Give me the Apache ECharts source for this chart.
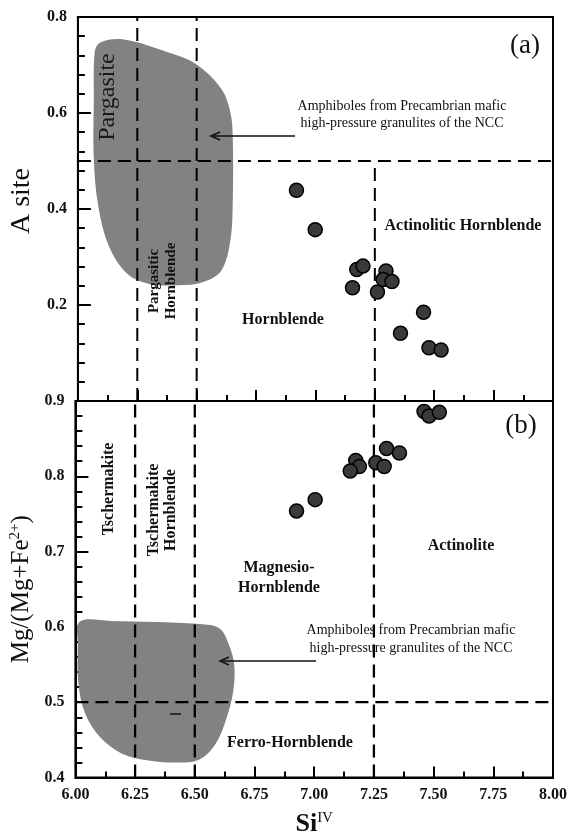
<!DOCTYPE html>
<html><head><meta charset="utf-8">
<script src="https://cdn.jsdelivr.net/npm/echarts@6/dist/echarts.min.js"></script>
<style>html,body{margin:0;padding:0;background:#fff}#c{width:571px;height:838px}</style>
</head><body><div id="c"></div>
<script>
// ---- data ----
const siTop = [6.920, 6.999, 7.174, 7.200, 7.156, 7.261, 7.297, 7.285, 7.322, 7.455, 7.358, 7.478, 7.529];
const aSite = [0.439, 0.357, 0.274, 0.281, 0.236, 0.227, 0.271, 0.253, 0.249, 0.185, 0.141, 0.111, 0.106];
const siBot = [7.460, 7.481, 7.524, 7.303, 7.357, 7.174, 7.189, 7.151, 7.258, 7.293, 6.926, 7.004];
const mgNum = [0.886, 0.880, 0.885, 0.837, 0.831, 0.821, 0.813, 0.807, 0.818, 0.813, 0.754, 0.769];
// field of amphiboles from Precambrian mafic HP granulites (outline)
const blobTopX = [6.071, 6.094, 6.193, 6.375, 6.497, 6.604, 6.642, 6.652, 6.652, 6.642, 6.604, 6.528, 6.421, 6.299, 6.208, 6.132, 6.086, 6.067, 6.067];
const blobTopY = [0.727, 0.747, 0.753, 0.727, 0.702, 0.650, 0.601, 0.545, 0.419, 0.335, 0.272, 0.248, 0.241, 0.244, 0.265, 0.321, 0.405, 0.503, 0.629];
const blobBotX = [6.018, 6.147, 6.520, 6.604, 6.642, 6.665, 6.661, 6.634, 6.588, 6.520, 6.421, 6.299, 6.193, 6.102, 6.041, 6.013, 6.010];
const blobBotY = [0.607, 0.608, 0.604, 0.598, 0.577, 0.550, 0.515, 0.480, 0.445, 0.424, 0.420, 0.423, 0.432, 0.454, 0.485, 0.524, 0.577];
// classification boundaries
const topVert = [6.25, 6.5];        // full height, panel a
const topHoriz = 0.5;               // panel a
const topActX = 7.25;               // panel a, A site 0 - 0.5
const botVert = [6.25, 6.5, 7.25];  // panel b
const botHoriz = 0.5;               // panel b
const xRange = [6, 8];
const yRangeTop = [0, 0.8];
const yRangeBot = [0.4, 0.9];

const serif = "'Liberation Serif','Times New Roman',serif";
const chart = echarts.init(document.getElementById('c'), null, {renderer: 'canvas'});

function xAx(g, showLabel, name) {
  return {
    type: 'value', gridIndex: g, min: xRange[0], max: xRange[1], interval: 0.25,
    axisLine: {show: true, onZero: false, lineStyle: {color: '#000', width: 2}},
    axisTick: {show: true, inside: true, length: 11, lineStyle: {color: '#000', width: 2}},
    minorTick: {show: true, splitNumber: 2, length: 6, lineStyle: {color: '#000', width: 2}},
    splitLine: {show: false},
    axisLabel: {show: showLabel, margin: 9, color: '#111', fontFamily: serif, fontWeight: 'bold', fontSize: 16,
      formatter: v => v.toFixed(2)},
    name: name || '', nameLocation: 'middle', nameGap: 33,
    nameTextStyle: {color: '#111', fontFamily: serif,
      rich: {a: {fontSize: 26, fontWeight: 'bold', fontFamily: serif, color: '#111'},
             b: {fontSize: 15, fontFamily: serif, color: '#111', padding: [0, 0, 12, 0]}}}
  };
}
function yAx(g, range, interval, split, name, gap, fs, hideFirst, pad) {
  return {
    type: 'value', gridIndex: g, min: range[0], max: range[1], interval: interval,
    axisLine: {show: true, onZero: false, lineStyle: {color: '#000', width: 2}},
    axisTick: {show: true, inside: true, length: 13, lineStyle: {color: '#000', width: 2}},
    minorTick: {show: true, splitNumber: split, length: 7, lineStyle: {color: '#000', width: 2}},
    splitLine: {show: false},
    axisLabel: {margin: 11, color: '#111', fontFamily: serif, fontWeight: 'bold', fontSize: 16,
      formatter: v => (hideFirst && Math.abs(v - range[0]) < 1e-9) ? '' : v.toFixed(1)},
    name: name, nameLocation: 'middle', nameRotate: 90, nameGap: gap,
    nameTextStyle: {color: '#111', fontFamily: serif, fontSize: fs, padding: pad || 0,
      rich: {sup: {fontSize: 15, fontFamily: serif, color: '#111', padding: [0, 0, 11, 0]}}}
  };
}
function blob(xs, ys, idx) {
  return {
    type: 'custom', xAxisIndex: idx, yAxisIndex: idx, silent: true, z: 1, clip: true,
    data: xs.map((x, i) => [x, ys[i]]),
    renderItem: function (params, api) {
      if (params.dataIndex !== 0) return null;
      const pts = xs.map((x, i) => api.coord([x, ys[i]]));
      return {type: 'polygon', shape: {points: pts, smooth: 0.35}, style: {fill: '#828282', stroke: null}};
    }
  };
}
function seg(pts, idx, w) {
  return {type: 'line', xAxisIndex: idx, yAxisIndex: idx, data: pts, symbol: 'none', silent: true, z: 3,
    lineStyle: {color: '#000', width: w || 2, type: [13, 7]}};
}
function pts(xs, ys, idx) {
  return {type: 'scatter', xAxisIndex: idx, yAxisIndex: idx, z: 5, symbolSize: 14,
    data: xs.map((x, i) => [x, ys[i]]),
    itemStyle: {color: '#3a3a3a', borderColor: '#000', borderWidth: 1.5, opacity: 1}};
}

const series = [blob(blobTopX, blobTopY, 0), blob(blobBotX, blobBotY, 1)];
topVert.forEach(x => series.push(seg([[x, yRangeTop[0]], [x, yRangeTop[1]]], 0)));
series.push(seg([[xRange[0], topHoriz], [xRange[1], topHoriz]], 0));
series.push(seg([[topActX, yRangeTop[0]], [topActX, topHoriz]], 0));
botVert.forEach(x => series.push(seg([[x, yRangeBot[0]], [x, yRangeBot[1]]], 1, 2.3)));
series.push(seg([[xRange[0], botHoriz], [xRange[1], botHoriz]], 1, 2.3));
series.push(pts(siTop, aSite, 0));
series.push(pts(siBot, mgNum, 1));

function txt(x, y, text, opts) {
  opts = opts || {};
  return {type: 'text', x: x, y: y, rotation: opts.rot ? Math.PI / 2 : 0, z: 10, silent: true,
    style: {text: text, fill: opts.color || '#111', fontFamily: serif, fontSize: opts.size || 16,
      fontWeight: opts.bold ? 'bold' : 'normal', lineHeight: opts.lh || undefined,
      align: 'center', verticalAlign: 'middle', textAlign: 'center', textVerticalAlign: 'middle'}};
}
function arrow(x1, x2, y) {
  return [
    {type: 'line', z: 10, silent: true, shape: {x1: x1, y1: y, x2: x2, y2: y}, style: {stroke: '#111', lineWidth: 1.5}},
    {type: 'polyline', z: 10, silent: true, shape: {points: [[x2 + 9, y - 4], [x2, y], [x2 + 9, y + 4]]}, style: {stroke: '#111', lineWidth: 1.5, fill: null}}
  ];
}
const graphic = [
  txt(525, 46, '(a)', {size: 27}),
  txt(108, 97, 'Pargasite', {size: 24, rot: true, color: '#1a1a1a'}),
  txt(163, 281, 'Pargasitic\nHornblende', {size: 15, bold: true, rot: true, lh: 17}),
  txt(283, 320, 'Hornblende', {bold: true}),
  txt(463, 226, 'Actinolitic Hornblende', {bold: true}),
  txt(402, 115, 'Amphiboles from Precambrian mafic\nhigh-pressure granulites of the NCC', {size: 14, lh: 17}),
  ...arrow(295, 211, 136),
  txt(521, 426, '(b)', {size: 27}),
  txt(109, 489, 'Tschermakite', {bold: true, rot: true}),
  txt(162, 510, 'Tschermakite\nHornblende', {bold: true, rot: true, lh: 17}),
  txt(279, 578, 'Magnesio-\nHornblende', {bold: true, lh: 20}),
  txt(461, 546, 'Actinolite', {bold: true}),
  txt(411, 639, 'Amphiboles from Precambrian mafic\nhigh-pressure granulites of the NCC', {size: 14, lh: 18}),
  ...arrow(316, 220, 661),
  txt(290, 743, 'Ferro-Hornblende', {bold: true}),
  {type: 'line', z: 10, silent: true, shape: {x1: 170, y1: 714, x2: 181, y2: 714}, style: {stroke: '#111', lineWidth: 1.5}}
];

chart.setOption({
  animation: false,
  backgroundColor: '#fff',
  grid: [
    {left: 74, right: 18, top: 17, height: 384, show: true, borderColor: '#000', borderWidth: 2},
    {left: 74, right: 18, top: 401, height: 380, show: true, borderColor: '#000', borderWidth: 2}
  ],
  xAxis: [xAx(0, false), xAx(1, true, '{a|Si}{b|IV}')],
  yAxis: [
    yAx(0, yRangeTop, 0.2, 5, 'A site', 36, 28, true, [0, 0, 0, 16]),
    yAx(1, yRangeBot, 0.1, 5, 'Mg/(Mg+Fe{sup|2+})', 33, 25, false)
  ],
  series: series,
  graphic: graphic
});
</script>
</body></html>
